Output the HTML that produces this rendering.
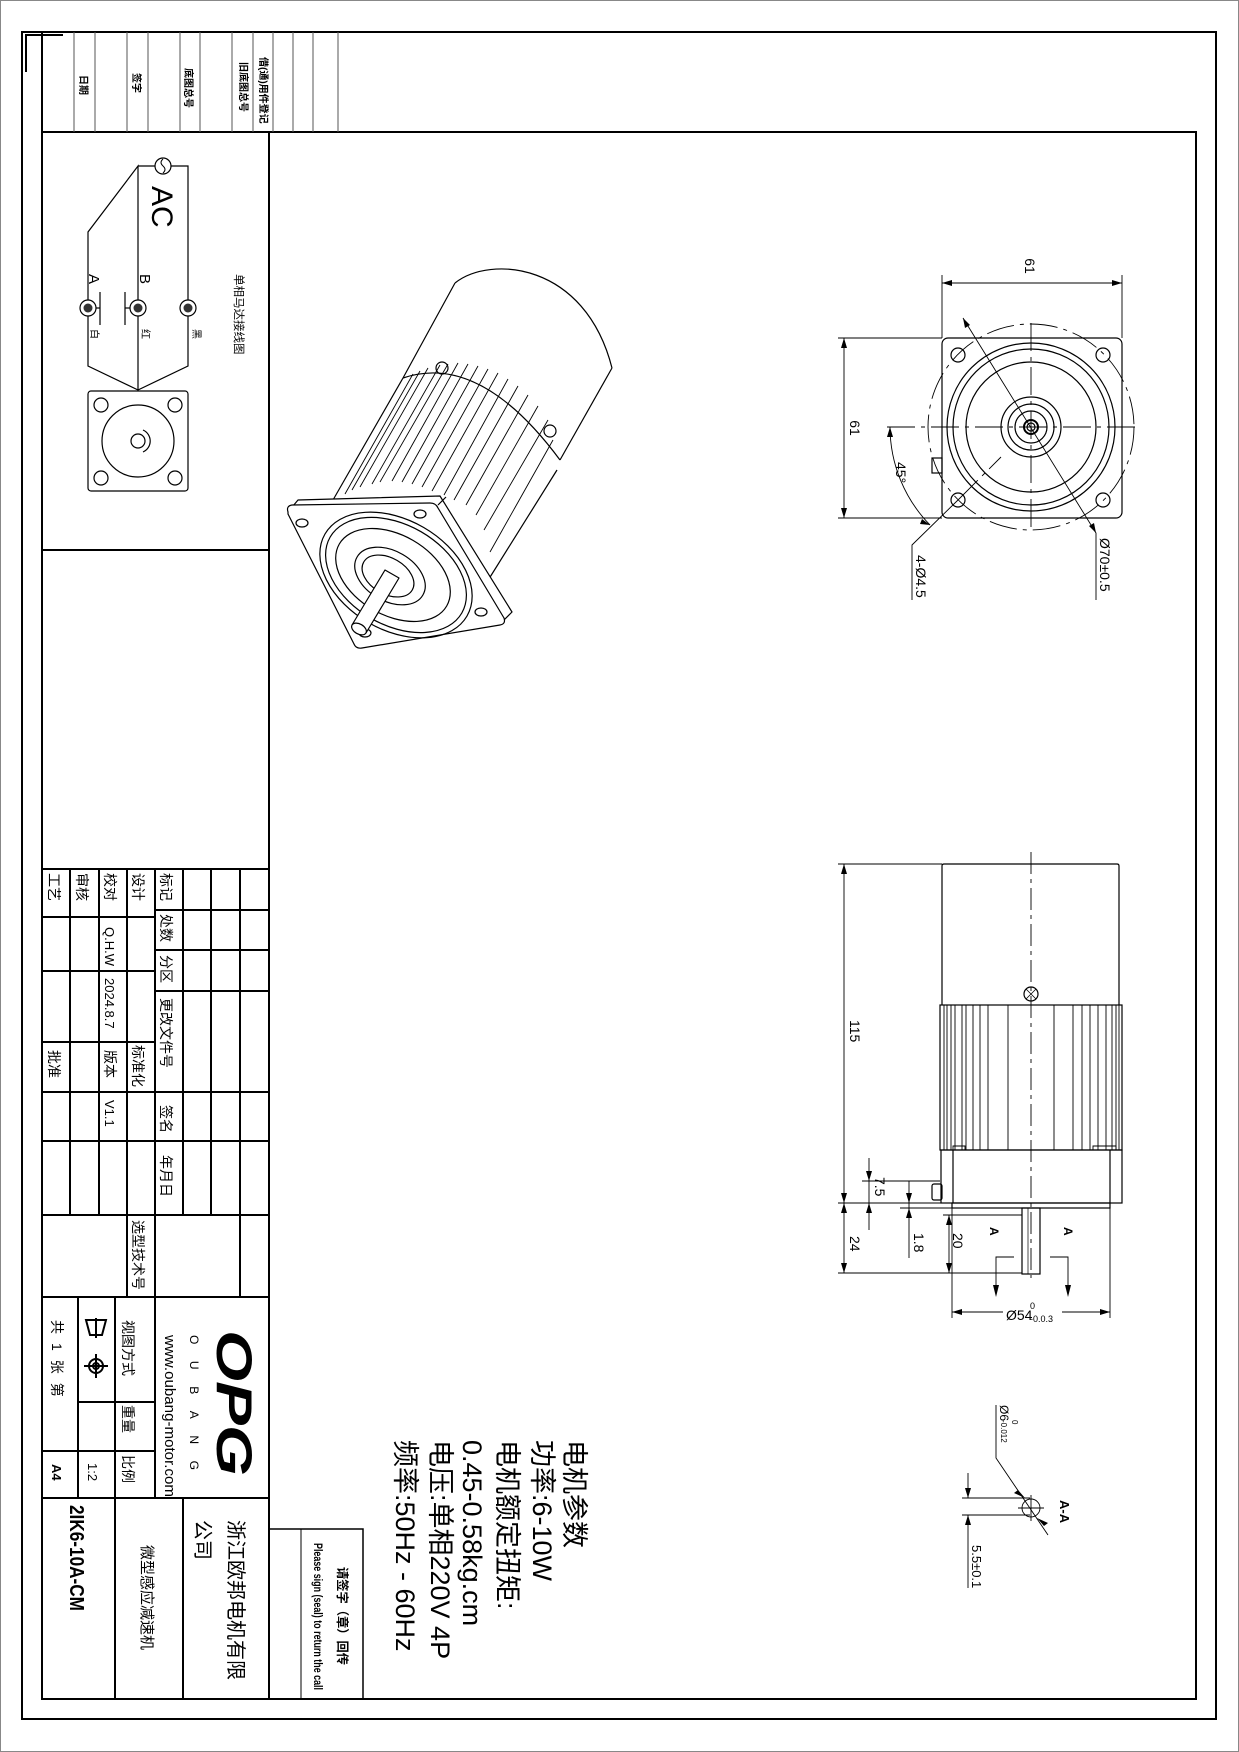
<!DOCTYPE html>
<html><head><meta charset="utf-8"><style>
html,body{margin:0;padding:0;background:#fff;}
svg{display:block;}
text{font-family:"Liberation Sans","Noto Sans CJK SC",sans-serif;fill:#000;}
</style></head><body>
<svg width="1239" height="1752" viewBox="0 0 1239 1752" xmlns="http://www.w3.org/2000/svg">
<rect x="0.5" y="0.5" width="1238" height="1751" fill="#fff" stroke="#888" stroke-width="1"/>
<!-- frames -->
<rect x="22" y="32" width="1194" height="1687" fill="none" stroke="#000" stroke-width="2"/>
<rect x="42" y="132" width="1154" height="1567" fill="none" stroke="#000" stroke-width="2"/>
<line x1="42" y1="32" x2="42" y2="132" stroke="#000" stroke-width="2"/>
<path d="M26,72 V35 H63" fill="none" stroke="#000" stroke-width="2"/>
<!-- top strip -->
<g stroke="#555" stroke-width="1">
<line x1="74" y1="32" x2="74" y2="132"/><line x1="95" y1="32" x2="95" y2="132"/>
<line x1="127" y1="32" x2="127" y2="132"/><line x1="148" y1="32" x2="148" y2="132"/>
<line x1="180" y1="32" x2="180" y2="132"/><line x1="200" y1="32" x2="200" y2="132"/>
<line x1="232" y1="32" x2="232" y2="132"/><line x1="253" y1="32" x2="253" y2="132"/>
<line x1="273" y1="32" x2="273" y2="132"/><line x1="293" y1="32" x2="293" y2="132"/>
<line x1="313" y1="32" x2="313" y2="132"/><line x1="338" y1="32" x2="338" y2="132"/>
</g>
<g font-size="10" font-weight="bold">
<text transform="translate(80,75) rotate(90)">日期</text>
<text transform="translate(133,73) rotate(90)">签字</text>
<text transform="translate(185,68) rotate(90)">底图总号</text>
<text transform="translate(240,62) rotate(90)">旧底图总号</text>
<text transform="translate(260,57) rotate(90)">借(通)用件登记</text>
</g>
<!-- left panel -->
<line x1="269" y1="132" x2="269" y2="1699" stroke="#000" stroke-width="2"/>
<line x1="42" y1="550" x2="269" y2="550" stroke="#000" stroke-width="2"/>
<!-- wiring diagram -->
<g fill="none" stroke="#000" stroke-width="1.2">
<path d="M138,166 H188 V366 L138,390 L88,366 V232 L138,166 V390"/>
<line x1="100" y1="292" x2="100" y2="325"/><line x1="88" y1="308" x2="100" y2="308"/>
<line x1="125" y1="292" x2="125" y2="325"/><line x1="125" y1="308" x2="138" y2="308"/>
<rect x="88" y="391" width="100" height="100" rx="3"/>
<circle cx="101" cy="405" r="7"/><circle cx="175" cy="405" r="7"/>
<circle cx="101" cy="478" r="7"/><circle cx="175" cy="478" r="7"/>
<circle cx="138" cy="441" r="36"/><circle cx="138" cy="441" r="7"/>
<path d="M143,430 A12,12 0 0 1 143,452"/>
</g>
<circle cx="163" cy="166" r="8" fill="#fff" stroke="#000" stroke-width="1.2"/>
<path d="M163,159 q-4,3.5 0,7 q4,3.5 0,7" fill="none" stroke="#000" stroke-width="1"/>
<g fill="#fff" stroke="#000" stroke-width="1.2">
<circle cx="88" cy="308" r="8"/><circle cx="138" cy="308" r="8"/><circle cx="188" cy="308" r="8"/>
</g>
<g fill="#333"><circle cx="88" cy="308" r="4.5"/><circle cx="138" cy="308" r="4.5"/><circle cx="188" cy="308" r="4.5"/></g>
<text transform="translate(152,186) rotate(90)" font-size="30">AC</text>
<text transform="translate(89,274) rotate(90)" font-size="15">A</text>
<text transform="translate(140,274) rotate(90)" font-size="15">B</text>
<g font-size="10">
<text transform="translate(91,329) rotate(90)">白</text>
<text transform="translate(142,329) rotate(90)">红</text>
<text transform="translate(193,329) rotate(90)">黑</text>
</g>
<text transform="translate(235,274) rotate(90)" font-size="11.5">单相马达接线图</text>
<!-- title table lines -->
<g stroke="#000" stroke-width="2" fill="none">
<line x1="42" y1="869" x2="269" y2="869"/>
<line x1="42" y1="1215" x2="269" y2="1215"/>
<line x1="42" y1="1297" x2="269" y2="1297"/>
<line x1="42" y1="1498" x2="269" y2="1498"/>
<line x1="155" y1="869" x2="155" y2="1498"/>
<line x1="183" y1="869" x2="183" y2="1215"/>
<line x1="211" y1="869" x2="211" y2="1215"/>
<line x1="240" y1="869" x2="240" y2="1297"/>
<line x1="70" y1="869" x2="70" y2="1215"/>
<line x1="99" y1="869" x2="99" y2="1215"/>
<line x1="127" y1="869" x2="127" y2="1297"/>
<line x1="155" y1="910" x2="269" y2="910"/>
<line x1="155" y1="950" x2="269" y2="950"/>
<line x1="155" y1="991" x2="269" y2="991"/>
<line x1="155" y1="1092" x2="269" y2="1092"/>
<line x1="155" y1="1141" x2="269" y2="1141"/>
<line x1="42" y1="917" x2="155" y2="917"/>
<line x1="42" y1="971" x2="155" y2="971"/>
<line x1="42" y1="1042" x2="155" y2="1042"/>
<line x1="42" y1="1092" x2="155" y2="1092"/>
<line x1="42" y1="1141" x2="155" y2="1141"/>
<line x1="78" y1="1297" x2="78" y2="1498"/>
<line x1="115" y1="1297" x2="115" y2="1699"/>
<line x1="78" y1="1402" x2="155" y2="1402"/>
<line x1="42" y1="1451" x2="155" y2="1451"/>
<line x1="183" y1="1498" x2="183" y2="1699"/>
</g>
<g font-size="14">
<text transform="translate(161,873) rotate(90)">标记</text>
<text transform="translate(161,914) rotate(90)">处数</text>
<text transform="translate(161,955) rotate(90)">分区</text>
<text transform="translate(161,998) rotate(90)">更改文件号</text>
<text transform="translate(161,1105) rotate(90)">签名</text>
<text transform="translate(161,1155) rotate(90)">年月日</text>
<text transform="translate(133,873) rotate(90)">设计</text>
<text transform="translate(133,1045) rotate(90)">标准化</text>
<text transform="translate(133,1220) rotate(90)">选型技术号</text>
<text transform="translate(105,873) rotate(90)">校对</text>
<text transform="translate(105,927) rotate(90)" font-size="13">Q.H.W</text>
<text transform="translate(105,978) rotate(90)" font-size="13">2024.8.7</text>
<text transform="translate(105,1050) rotate(90)">版本</text>
<text transform="translate(105,1100) rotate(90)" font-size="13">V1.1</text>
<text transform="translate(77,873) rotate(90)">审核</text>
<text transform="translate(49,873) rotate(90)">工艺</text>
<text transform="translate(49,1050) rotate(90)">批准</text>
<text transform="translate(123,1320) rotate(90)">视图方式</text>
<text transform="translate(123,1405) rotate(90)">重量</text>
<text transform="translate(123,1455) rotate(90)">比例</text>
<text transform="translate(88,1463) rotate(90)" font-size="13">1:2</text>
<text transform="translate(52,1320) rotate(90)" letter-spacing="9">共1张第</text>
<text transform="translate(52,1464) rotate(90)" font-size="13" font-weight="bold">A4</text>
</g>
<!-- projection symbol -->
<g fill="none" stroke="#000" stroke-width="2">
<path d="M86,1320 H106 L102,1335 H90 Z"/>
<line x1="96" y1="1318" x2="96" y2="1338"/>
<circle cx="96" cy="1366" r="7"/><circle cx="96" cy="1366" r="3"/>
<line x1="84" y1="1366" x2="108" y2="1366"/><line x1="96" y1="1354" x2="96" y2="1378"/>
</g>
<!-- logo -->
<text transform="translate(217,1330) rotate(90)" font-size="50" font-weight="bold" font-style="italic" textLength="146" lengthAdjust="spacingAndGlyphs">OPG</text>
<text transform="translate(190,1335) rotate(90)" font-size="12" textLength="135" lengthAdjust="spacing">OUBANG</text>
<text transform="translate(165,1335) rotate(90)" font-size="15" textLength="162" lengthAdjust="spacingAndGlyphs">www.oubang-motor.com</text>
<text transform="translate(229,1520) rotate(90)" font-size="20">浙江欧邦电机有限</text>
<text transform="translate(196,1520) rotate(90)" font-size="20">公司</text>
<text transform="translate(142,1545) rotate(90)" font-size="15">微型感应减速机</text>
<text transform="translate(70,1505) rotate(90)" font-size="20" font-weight="bold" textLength="106" lengthAdjust="spacingAndGlyphs">2IK6-10A-CM</text>
<!-- sign box -->
<g stroke="#000" stroke-width="1.5" fill="none">
<path d="M269,1529 H363 V1699"/>
<line x1="301" y1="1529" x2="301" y2="1699" stroke-width="1"/>
</g>
<text transform="translate(338,1567) rotate(90)" font-size="12.5" font-weight="bold" textLength="98" lengthAdjust="spacingAndGlyphs">请签字（章）回传</text>
<text transform="translate(314,1543) rotate(90)" font-size="12" font-weight="bold" textLength="147" lengthAdjust="spacingAndGlyphs">Please sign (seal) to return the call</text>
<!-- parameters -->
<g font-size="27">
<text transform="translate(565,1440) rotate(90)">电机参数</text>
<text transform="translate(533,1440) rotate(90)">功率:6-10W</text>
<text transform="translate(498,1440) rotate(90)">电机额定扭矩:</text>
<text transform="translate(463,1440) rotate(90)">0.45-0.58kg.cm</text>
<text transform="translate(431,1440) rotate(90)">电压:单相220V 4P</text>
<text transform="translate(396,1440) rotate(90)">频率:50Hz - 60Hz</text>
</g>
<!-- isometric motor -->
<g fill="none" stroke="#000" stroke-width="1.2" stroke-linejoin="round">
<path d="M455,283 C490,255 585,262 612,368"/>
<path d="M455,283 L403,378"/><path d="M612,368 L560,460"/>
<path d="M403,378 Q480,352 560,460"/>
<circle cx="442" cy="368" r="6"/><circle cx="550" cy="431" r="6"/>
<path d="M403,378 L333,500"/><path d="M557,470 L487,582"/>
<g stroke-width="0.9">
<path d="M413,374 L345,494"/><path d="M420,371 L352,490"/><path d="M428,368 L360,487"/>
<path d="M440,365 L372,484"/><path d="M448,364 L380,482"/><path d="M458,363 L392,481"/>
<path d="M468,364 L402,482"/><path d="M478,366 L412,484"/><path d="M488,369 L422,487"/>
<path d="M498,373 L432,491"/><path d="M508,379 L444,495"/><path d="M518,386 L454,500"/>
<path d="M528,395 L466,505"/><path d="M538,406 L476,515"/><path d="M548,420 L484,530"/>
<path d="M553,440 L490,552"/>
</g>
<path d="M288,512 L298,500 L440,496 L512,612 L502,622" fill="#fff"/>
<path d="M288,512 Q286,506 292,505 L430,503 Q436,503 438,508 L504,618 Q506,624 500,625 L362,648 Q356,649 354,644 L288,514 Z" fill="#fff"/>
<path d="M438,505 L446,497"/>
<ellipse cx="302" cy="523" rx="6" ry="4"/><ellipse cx="420" cy="514" rx="6" ry="4"/>
<ellipse cx="481" cy="612" rx="6" ry="4"/><ellipse cx="365" cy="633" rx="6" ry="4"/>
<ellipse cx="396" cy="575" rx="82" ry="55" transform="rotate(30 396 575)"/>
<ellipse cx="396" cy="575" rx="76" ry="50" transform="rotate(30 396 575)"/>
<ellipse cx="393" cy="575" rx="62" ry="40" transform="rotate(30 393 575)"/>
<ellipse cx="390" cy="576" rx="38" ry="25" transform="rotate(30 390 576)"/>
<ellipse cx="388" cy="576" rx="28" ry="18" transform="rotate(30 388 576)"/>
<path d="M385,570 L399,578 L366,633 L352,625 Z" fill="#fff"/>
<ellipse cx="359" cy="629" rx="8" ry="5" transform="rotate(30 359 629)" fill="#fff"/>
</g>
<!-- top view -->
<g fill="none" stroke="#000" stroke-width="1.2">
<rect x="942" y="338" width="180" height="180" rx="6"/>
<circle cx="958" cy="355" r="7"/><circle cx="1103" cy="355" r="7"/>
<circle cx="958" cy="500" r="7"/><circle cx="1103" cy="500" r="7"/>
<circle cx="1031" cy="427" r="84"/><circle cx="1031" cy="427" r="78"/>
<circle cx="1031" cy="427" r="65"/>
<circle cx="1031" cy="427" r="30"/><circle cx="1031" cy="427" r="23"/><circle cx="1031" cy="427" r="16"/>
<circle cx="1031" cy="427" r="7" stroke-width="2"/><circle cx="1031" cy="427" r="4"/>
<rect x="932" y="458" width="10" height="15"/>
<circle cx="1031" cy="427" r="103" stroke-dasharray="28,6,4,6" stroke-width="0.9"/>
<g stroke-dasharray="28,6,4,6" stroke-width="0.9">
<line x1="887" y1="427" x2="1135" y2="427"/><line x1="1031" y1="323" x2="1031" y2="532"/>
<line x1="958" y1="500" x2="1001" y2="457"/>
</g>
<g stroke-width="0.9">
<line x1="942" y1="275" x2="942" y2="338"/><line x1="1122" y1="275" x2="1122" y2="338"/>
<line x1="942" y1="283" x2="1122" y2="283"/>
<line x1="838" y1="338" x2="942" y2="338"/><line x1="838" y1="518" x2="942" y2="518"/>
<line x1="844" y1="338" x2="844" y2="518"/>
<path d="M890,427 A141,141 0 0 0 930,525"/>
<path d="M958,500 L912,545 V600"/>
<path d="M963,318 L1096,533 V600"/>
</g>
</g>
<g fill="#000">
<path d="M942,283 l10,-3 v6z"/><path d="M1122,283 l-10,-3 v6z"/>
<path d="M844,338 l-3,10 h6z"/><path d="M844,518 l-3,-10 h6z"/>
<path d="M890,427 l-3,10 h6z"/><path d="M930,525 l-8,-6 l-2,5z"/>
<path d="M963,318 l2,10 l5,-3z"/><path d="M1096,533 l-2,-10 l-5,3z"/>
</g>
<g font-size="14">
<text transform="translate(1025,266) rotate(90)" text-anchor="middle">61</text>
<text transform="translate(850,428) rotate(90)" text-anchor="middle">61</text>
<text transform="translate(896,462) rotate(90)">45°</text>
<text transform="translate(916,555) rotate(90)">4-Ø4.5</text>
<text transform="translate(1100,538) rotate(90)">Ø70±0.5</text>
</g>
<!-- side view -->
<g fill="none" stroke="#000" stroke-width="1.2">
<path d="M942,1005 V866 Q942,864 944,864 H1117 Q1119,864 1119,866 V1005"/>
<rect x="940" y="1005" width="182" height="145"/>
<rect x="941" y="1150" width="181" height="53"/>
<line x1="953" y1="1150" x2="953" y2="1203"/><line x1="1110" y1="1150" x2="1110" y2="1203"/>
<rect x="952" y="1203" width="158" height="5"/>
<rect x="1022" y="1208" width="18" height="66"/>
<line x1="1028" y1="1208" x2="1028" y2="1274" stroke-width="0.7"/>
<rect x="932" y="1184" width="10" height="16" rx="2"/>
<circle cx="1031" cy="994" r="7"/>
<path d="M1026,989 l10,10 M1036,989 l-10,10" stroke-width="0.8"/>
<g stroke-width="0.9">
<line x1="944" y1="1005" x2="944" y2="1150"/><line x1="947" y1="1005" x2="947" y2="1150"/>
<line x1="951" y1="1005" x2="951" y2="1150"/><line x1="955" y1="1005" x2="955" y2="1150"/>
<line x1="962" y1="1005" x2="962" y2="1150"/><line x1="966" y1="1005" x2="966" y2="1150"/>
<line x1="973" y1="1005" x2="973" y2="1150"/><line x1="980" y1="1005" x2="980" y2="1150"/>
<line x1="988" y1="1005" x2="988" y2="1150"/><line x1="1008" y1="1005" x2="1008" y2="1150"/>
<line x1="1054" y1="1005" x2="1054" y2="1150"/><line x1="1073" y1="1005" x2="1073" y2="1150"/>
<line x1="1082" y1="1005" x2="1082" y2="1150"/><line x1="1090" y1="1005" x2="1090" y2="1150"/>
<line x1="1098" y1="1005" x2="1098" y2="1150"/><line x1="1106" y1="1005" x2="1106" y2="1150"/>
<line x1="1112" y1="1005" x2="1112" y2="1150"/><line x1="1116" y1="1005" x2="1116" y2="1150"/>
<line x1="1119" y1="1005" x2="1119" y2="1150"/>
<path d="M953,1150 V1146 H965 V1150 M1093,1150 V1146 H1116 V1150"/>
</g>
<line x1="1031" y1="852" x2="1031" y2="1278" stroke-dasharray="22,5,4,5" stroke-width="0.9"/>
<g stroke-width="0.9">
<line x1="838" y1="864" x2="942" y2="864"/><line x1="838" y1="1203" x2="941" y2="1203"/>
<line x1="838" y1="1273" x2="1022" y2="1273"/>
<line x1="844" y1="864" x2="844" y2="1273"/>
<line x1="862" y1="1181" x2="940" y2="1181"/>
<line x1="869" y1="1158" x2="869" y2="1230"/>
<line x1="900" y1="1208" x2="952" y2="1208"/>
<line x1="909" y1="1181" x2="909" y2="1258"/>
<line x1="943" y1="1215" x2="1022" y2="1215"/>
<line x1="949" y1="1215" x2="949" y2="1273"/>
<path d="M1014,1257 H996 V1295 M1050,1257 H1068 V1295"/>
<line x1="952" y1="1208" x2="952" y2="1318"/><line x1="1110" y1="1208" x2="1110" y2="1318"/>
<line x1="952" y1="1312" x2="1003" y2="1312"/><line x1="1062" y1="1312" x2="1110" y2="1312"/>
</g>
</g>
<g fill="#000">
<path d="M844,864 l-3,10 h6z"/><path d="M844,1203 l-3,-10 h6z"/>
<path d="M844,1203 l-3,10 h6z"/><path d="M844,1273 l-3,-10 h6z"/>
<path d="M869,1181 l-3,-10 h6z"/><path d="M869,1203 l-3,10 h6z"/>
<path d="M909,1203 l-3,-10 h6z"/><path d="M909,1208 l-3,10 h6z"/>
<path d="M949,1215 l-3,10 h6z"/><path d="M949,1273 l-3,-10 h6z"/>
<path d="M996,1297 l-3,-12 h6z"/><path d="M1068,1297 l-3,-12 h6z"/>
<path d="M952,1312 l10,-3 v6z"/><path d="M1110,1312 l-10,-3 v6z"/>
</g>
<g font-size="14">
<text transform="translate(850,1020) rotate(90)">115</text>
<text transform="translate(850,1236) rotate(90)">24</text>
<text transform="translate(875,1177) rotate(90)">7.5</text>
<text transform="translate(914,1233) rotate(90)">1.8</text>
<text transform="translate(953,1233) rotate(90)">20</text>
<text transform="translate(990,1227) rotate(90)" font-weight="bold" font-size="12">A</text>
<text transform="translate(1064,1227) rotate(90)" font-weight="bold" font-size="12">A</text>
</g>
<text x="1006" y="1320" font-size="14">Ø54</text>
<text x="1030" y="1309" font-size="9">0</text>
<text x="1030" y="1322" font-size="9">-0.0.3</text>
<!-- A-A section -->
<g fill="none" stroke="#000" stroke-width="0.9">
<circle cx="1031" cy="1508" r="9"/>
<line x1="1018" y1="1508" x2="1044" y2="1508"/><line x1="1031" y1="1495" x2="1031" y2="1521"/>
<line x1="962" y1="1498" x2="1030" y2="1498"/><line x1="962" y1="1515" x2="1030" y2="1515"/>
<line x1="968" y1="1473" x2="968" y2="1498"/><line x1="968" y1="1515" x2="968" y2="1588"/>
<path d="M996,1405 V1458 L1048,1535"/>
</g>
<g fill="#000">
<path d="M968,1498 l-3,-10 h6z"/><path d="M968,1515 l-3,10 h6z"/>
<path d="M1025,1498 l-7,-8 l-4,3z"/><path d="M1037,1518 l7,8 l4,-3z"/>
</g>
<text transform="translate(1000,1405) rotate(90)" font-size="12">Ø6</text>
<text transform="translate(1012,1420) rotate(90)" font-size="8">0</text>
<text transform="translate(1001,1420) rotate(90)" font-size="8">-0.012</text>
<text transform="translate(1060,1500) rotate(90)" font-size="13" font-weight="bold">A-A</text>
<text transform="translate(972,1545) rotate(90)" font-size="13">5.5±0.1</text>
</svg>
</body></html>
